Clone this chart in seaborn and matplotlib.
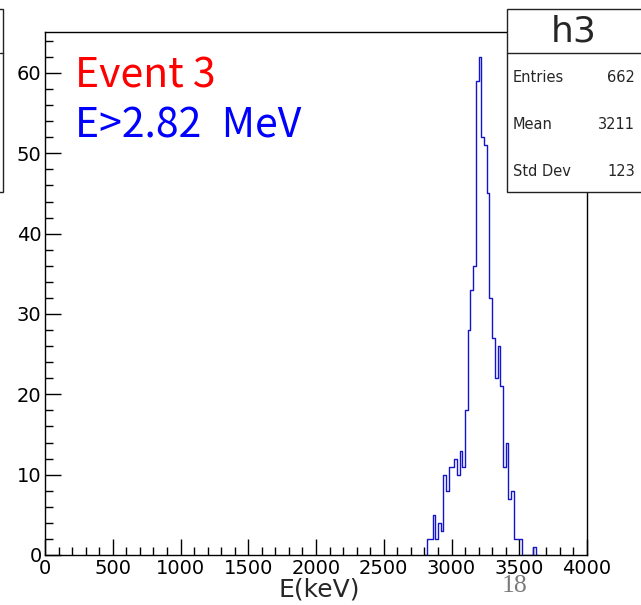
import numpy as np
import pandas as pd
import matplotlib
matplotlib.use("Agg")
import matplotlib.pyplot as plt
import seaborn as sns
from matplotlib.patches import Rectangle
from matplotlib.lines import Line2D
from matplotlib.ticker import MultipleLocator

# ---- data ----
bin_left = [2820, 2840, 2860, 2880, 2900, 2920, 2940, 2960, 2980, 3000,
            3020, 3040, 3060, 3080, 3100, 3120, 3140, 3160, 3180, 3200,
            3220, 3240, 3260, 3280, 3300, 3320, 3340, 3360, 3380, 3400,
            3420, 3440, 3460, 3480, 3500, 3600]
counts = [2, 2, 5, 2, 4, 3, 10, 8, 11, 11,
          12, 10, 13, 11, 18, 28, 33, 36, 59, 62,
          52, 51, 45, 32, 27, 22, 26, 21, 11, 14,
          7, 8, 2, 2, 2, 1]
bin_width = 20
x_ticks = [0, 500, 1000, 1500, 2000, 2500, 3000, 3500, 4000]
y_ticks = [0, 10, 20, 30, 40, 50, 60]
stats_labels = ["Entries", "Mean", "Std Dev"]
stats_values = ["662", "3211", "123"]
hist_name = "h3"
title_lines = ["Event 3", "E>2.82\u2002MeV"]
title_colors = ["#ff0000", "#0000ff"]

sns.set_style("white")
plt.rcParams["font.family"] = ["DejaVu Sans"]

W, H = 641, 605
fig = plt.figure(figsize=(W / 100, H / 100), dpi=100)
ax = fig.add_axes([45 / W, 1 - 555 / H, (587 - 45) / W, (555 - 32) / H])

df = pd.DataFrame({"E": [b + bin_width / 2 for b in bin_left], "n": counts})
sns.histplot(data=df, x="E", weights="n", binwidth=bin_width, binrange=(2800, 3640),
             element="step", fill=False, color="#1414c8", linewidth=1.0, ax=ax)

ax.set_xlim(0, 4000)
ax.set_ylim(0, 65.1)
ax.set_xticks(x_ticks)
ax.set_yticks(y_ticks)
ax.xaxis.set_minor_locator(MultipleLocator(100))
ax.yaxis.set_minor_locator(MultipleLocator(2))
ax.tick_params(which="both", direction="in", top=False, right=False,
               bottom=True, left=True, colors="black", labelsize=14)
ax.tick_params(which="major", length=11.5, width=1)
ax.tick_params(which="minor", length=5.8, width=1)
ax.tick_params(axis="x", pad=3)
ax.tick_params(axis="y", pad=2.5)
for s in ax.spines.values():
    s.set_color("black")
    s.set_linewidth(1)
    s.set_visible(True)

ax.set_ylabel("")
ax.set_xlabel("E(keV)", fontsize=18)
ax.xaxis.label.set_va("baseline")
ax.xaxis.set_label_coords((319 - 45) / 542, (555 - 597) / 523)

# Title texts
tfam = ["Noto Sans CJK JP", "DejaVu Sans"]
fig.text(75 / W, 1 - 88 / H, title_lines[0], color=title_colors[0], fontsize=29.5,
         family=tfam, ha="left", va="baseline")
fig.text(75 / W, 1 - 138 / H, title_lines[1], color=title_colors[1], fontsize=29.5,
         family=tfam, ha="left", va="baseline")

# Stats box (right)
edge = "#222222"
fig.add_artist(Rectangle((507 / W, 1 - 192 / H), (650 - 507) / W, (192 - 9) / H,
                         transform=fig.transFigure, facecolor="white", edgecolor=edge,
                         linewidth=1, zorder=10))
fig.add_artist(Line2D([507 / W, 1.0], [1 - 53 / H, 1 - 53 / H], transform=fig.transFigure,
                      color=edge, linewidth=1, zorder=11))
fig.text(574 / W, 1 - 32 / H, hist_name, fontsize=26, ha="center", va="center", zorder=12)
for i, (lab, val) in enumerate(zip(stats_labels, stats_values)):
    yy = 1 - (78 + 46.5 * i) / H
    fig.text(513 / W, yy, lab, fontsize=10.5, ha="left", va="center", zorder=12)
    fig.text(635 / W, yy, val, fontsize=10.5, ha="right", va="center", zorder=12)

# Partial stats box of the neighbouring pad (left edge)
fig.add_artist(Rectangle((-20 / W, 1 - 192 / H), 23 / W, (192 - 9) / H,
                         transform=fig.transFigure, facecolor="white", edgecolor=edge,
                         linewidth=1, zorder=10))
fig.add_artist(Line2D([0, 3 / W], [1 - 53 / H, 1 - 53 / H], transform=fig.transFigure,
                      color=edge, linewidth=1, zorder=11))

# Page number overlay
fig.text(515 / W, 1 - 592 / H, "18", fontsize=18.5, family=["Liberation Serif", "DejaVu Serif"],
         color="#7a7a7a", ha="center", va="baseline")

fig.savefig("out.png", dpi=100)
